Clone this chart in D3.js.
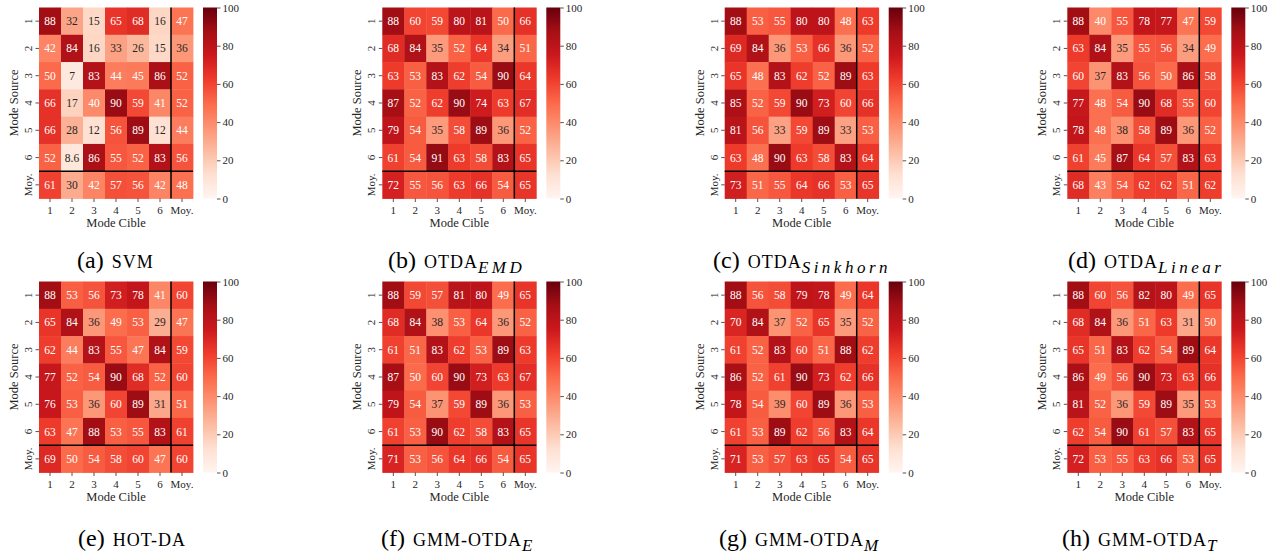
<!DOCTYPE html>
<html>
<head>
<meta charset="utf-8">
<script src="https://cdn.jsdelivr.net/npm/d3@7"></script>
<style>
  body { margin: 0; background: #fff; }
  svg, svg text { font-family: "Liberation Serif", "Times New Roman", "DejaVu Serif", serif; }
</style>
</head>
<body>
<svg id="chart" width="1276" height="555"></svg>
<script>
// tick labels shared by both axes of every matrix
var labels = ['1', '2', '3', '4', '5', '6', 'Moy.'];
var cbTicks = [0, 20, 40, 60, 80, 100];

// accuracy matrices, rows = source mode, columns = target mode (last = mean)
var svm = [
  [88, 32, 15, 65, 68, 16, 47],
  [42, 84, 16, 33, 26, 15, 36],
  [50, 7, 83, 44, 45, 86, 52],
  [66, 17, 40, 90, 59, 41, 52],
  [66, 28, 12, 56, 89, 12, 44],
  [52, 8.6, 86, 55, 52, 83, 56],
  [61, 30, 42, 57, 56, 42, 48]
];
var otdaEmd = [
  [88, 60, 59, 80, 81, 50, 66],
  [68, 84, 35, 52, 64, 34, 51],
  [63, 53, 83, 62, 54, 90, 64],
  [87, 52, 62, 90, 74, 63, 67],
  [79, 54, 35, 58, 89, 36, 52],
  [61, 54, 91, 63, 58, 83, 65],
  [72, 55, 56, 63, 66, 54, 65]
];
var otdaSinkhorn = [
  [88, 53, 55, 80, 80, 48, 63],
  [69, 84, 36, 53, 66, 36, 52],
  [65, 48, 83, 62, 52, 89, 63],
  [85, 52, 59, 90, 73, 60, 66],
  [81, 56, 33, 59, 89, 33, 53],
  [63, 48, 90, 63, 58, 83, 64],
  [73, 51, 55, 64, 66, 53, 65]
];
var otdaLinear = [
  [88, 40, 55, 78, 77, 47, 59],
  [63, 84, 35, 55, 56, 34, 49],
  [60, 37, 83, 56, 50, 86, 58],
  [77, 48, 54, 90, 68, 55, 60],
  [78, 48, 38, 58, 89, 36, 52],
  [61, 45, 87, 64, 57, 83, 63],
  [68, 43, 54, 62, 62, 51, 62]
];
var hotDa = [
  [88, 53, 56, 73, 78, 41, 60],
  [65, 84, 36, 49, 53, 29, 47],
  [62, 44, 83, 55, 47, 84, 59],
  [77, 52, 54, 90, 68, 52, 60],
  [76, 53, 36, 60, 89, 31, 51],
  [63, 47, 88, 53, 55, 83, 61],
  [69, 50, 54, 58, 60, 47, 60]
];
var gmmOtdaE = [
  [88, 59, 57, 81, 80, 49, 65],
  [68, 84, 38, 53, 64, 36, 52],
  [61, 51, 83, 62, 53, 89, 63],
  [87, 50, 60, 90, 73, 63, 67],
  [79, 54, 37, 59, 89, 36, 53],
  [61, 53, 90, 62, 58, 83, 65],
  [71, 53, 56, 64, 66, 54, 65]
];
var gmmOtdaM = [
  [88, 56, 58, 79, 78, 49, 64],
  [70, 84, 37, 52, 65, 35, 52],
  [61, 52, 83, 60, 51, 88, 62],
  [86, 52, 61, 90, 73, 62, 66],
  [78, 54, 39, 60, 89, 36, 53],
  [61, 53, 89, 62, 56, 83, 64],
  [71, 53, 57, 63, 65, 54, 65]
];
var gmmOtdaT = [
  [88, 60, 56, 82, 80, 49, 65],
  [68, 84, 36, 51, 63, 31, 50],
  [65, 51, 83, 62, 54, 89, 64],
  [86, 49, 56, 90, 73, 63, 66],
  [81, 52, 36, 59, 89, 35, 53],
  [62, 54, 90, 61, 57, 83, 65],
  [72, 53, 55, 63, 66, 53, 65]
];

var matrices = [svm, otdaEmd, otdaSinkhorn, otdaLinear, hotDa, gmmOtdaE, gmmOtdaM, gmmOtdaT];
var captionLetters = ['a', 'b', 'c', 'd', 'e', 'f', 'g', 'h'];
var captionNames = ['svm', 'otda', 'otda', 'otda', 'hot-da', 'gmm-otda', 'gmm-otda', 'gmm-otda'];
var captionSubs = ['', 'EMD', 'Sinkhorn', 'Linear', '', 'E', 'M', 'T'];

// layout
var serif = '"Liberation Serif", "Times New Roman", "DejaVu Serif", serif';
var panelLeft = [39, 382.3, 724.7, 1067.3];
var rowTop = [7.5, 281.5];
var captionLeft = [77, 388, 713, 1068, 78, 381, 719, 1062];
var captionY = [268, 546];
var mapW = 154;
var mapH = 191;
var cbOffset = 164;
var cbW = 14;
var ink = '#262626';

// matplotlib "Reds"
var reds = ['#fff5f0', '#fee0d2', '#fcbba1', '#fc9272', '#fb6a4a', '#ef3b2c', '#cb181d', '#a50f15', '#67000d'];
var color = d3.scaleLinear()
  .domain(reds.map(function (d, i) { return i * 100 / (reds.length - 1); }))
  .range(reds)
  .clamp(true);

function luminance(c) {
  var rgb = d3.rgb(c);
  var f = function (v) {
    v /= 255;
    return v <= 0.03928 ? v / 12.92 : Math.pow((v + 0.055) / 1.055, 2.4);
  };
  return 0.2126 * f(rgb.r) + 0.7152 * f(rgb.g) + 0.0722 * f(rgb.b);
}

var fmt = d3.format('.2');
var svg = d3.select('#chart').attr('font-family', serif);

// colorbar gradient
var grad = svg.append('defs').append('linearGradient')
  .attr('id', 'redsGrad')
  .attr('x1', 0).attr('y1', 1).attr('x2', 0).attr('y2', 0);
grad.selectAll('stop')
  .data(reds)
  .enter()
  .append('stop')
  .attr('offset', function (d, i) { return i / (reds.length - 1); })
  .attr('stop-color', function (d) { return d; });

function styleAxis(g) {
  g.attr('font-family', serif).attr('font-size', 11);
  g.select('.domain').remove();
  g.selectAll('.tick line').attr('stroke', ink).attr('stroke-width', 0.8);
  g.selectAll('.tick text').attr('fill', ink);
}

function drawPanel(k) {
  var data = matrices[k];
  var x0 = panelLeft[k % 4];
  var y0 = rowTop[Math.floor(k / 4)];
  var g = svg.append('g').attr('transform', 'translate(' + x0 + ',' + y0 + ')');

  var x = d3.scaleBand().domain(labels).range([0, mapW]);
  var y = d3.scaleBand().domain(labels).range([0, mapH]);

  var cells = [];
  data.forEach(function (row, r) {
    row.forEach(function (v, c) {
      cells.push({ row: labels[r], col: labels[c], value: v });
    });
  });

  g.selectAll('rect.cell')
    .data(cells)
    .enter()
    .append('rect')
    .attr('class', 'cell')
    .attr('x', function (d) { return x(d.col); })
    .attr('y', function (d) { return y(d.row); })
    .attr('width', x.bandwidth() + 0.4)
    .attr('height', y.bandwidth() + 0.4)
    .attr('fill', function (d) { return color(d.value); });

  g.selectAll('text.annot')
    .data(cells)
    .enter()
    .append('text')
    .attr('class', 'annot')
    .attr('x', function (d) { return x(d.col) + x.bandwidth() / 2; })
    .attr('y', function (d) { return y(d.row) + y.bandwidth() / 2; })
    .attr('dy', '0.35em')
    .attr('text-anchor', 'middle')
    .attr('font-size', 11.5)
    .attr('fill', function (d) { return luminance(color(d.value)) > 0.408 ? ink : '#fff'; })
    .text(function (d) { return fmt(d.value); });

  // separators before the mean row / column
  g.append('line')
    .attr('x1', x('Moy.')).attr('x2', x('Moy.'))
    .attr('y1', 0).attr('y2', mapH)
    .attr('stroke', '#000').attr('stroke-width', 1.5);
  g.append('line')
    .attr('x1', 0).attr('x2', mapW)
    .attr('y1', y('Moy.')).attr('y2', y('Moy.'))
    .attr('stroke', '#000').attr('stroke-width', 1.5);

  // axes
  var xAxis = g.append('g')
    .attr('transform', 'translate(0,' + mapH + ')')
    .call(d3.axisBottom(x).tickSize(3.5).tickPadding(2.5))
    .call(styleAxis);
  xAxis.selectAll('.tick text').attr('dy', '0.85em');

  var yAxis = g.append('g')
    .call(d3.axisLeft(y).tickSize(3.5))
    .call(styleAxis);
  yAxis.selectAll('.tick text')
    .attr('x', null)
    .attr('dy', null)
    .attr('text-anchor', 'middle')
    .attr('transform', 'translate(-7,0) rotate(-90)');

  g.append('text')
    .attr('x', mapW / 2)
    .attr('y', mapH + 28)
    .attr('text-anchor', 'middle')
    .attr('fill', ink)
    .attr('font-size', 12.5)
    .text('Mode Cible');

  g.append('text')
    .attr('transform', 'translate(-21,' + mapH / 2 + ') rotate(-90)')
    .attr('text-anchor', 'middle')
    .attr('fill', ink)
    .attr('font-size', 12.5)
    .text('Mode Source');

  // colorbar
  var cb = g.append('g').attr('transform', 'translate(' + cbOffset + ',0)');
  cb.append('rect')
    .attr('width', cbW)
    .attr('height', mapH)
    .attr('fill', 'url(#redsGrad)');
  var cbScale = d3.scaleLinear().domain([0, 100]).range([mapH, 0]);
  cb.append('g')
    .attr('transform', 'translate(' + cbW + ',0)')
    .call(d3.axisRight(cbScale).tickValues(cbTicks).tickSize(3.5).tickPadding(2))
    .call(styleAxis);

  // caption: "(x) " + small caps name + optional italic subscript
  var cap = svg.append('text')
    .attr('x', captionLeft[k])
    .attr('y', captionY[Math.floor(k / 4)])
    .attr('fill', '#000')
    .attr('font-size', 24);
  cap.append('tspan').text('(' + captionLetters[k] + ')');
  cap.append('tspan')
    .attr('dx', 8)
    .attr('font-size', 18)
    .attr('letter-spacing', 1)
    .text(captionNames[k].toUpperCase());
  if (captionSubs[k]) {
    cap.append('tspan')
      .attr('dy', 5)
      .attr('font-style', 'italic')
      .attr('font-size', 17)
      .attr('letter-spacing', 3.5)
      .text(captionSubs[k]);
  }
}

matrices.forEach(function (m, k) { drawPanel(k); });
</script>
</body>
</html>
